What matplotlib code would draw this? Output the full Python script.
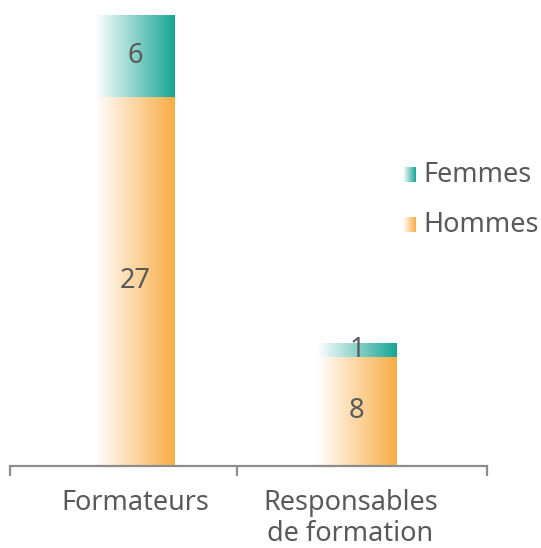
import numpy as np
import matplotlib
matplotlib.use("Agg")
import matplotlib.pyplot as plt
from matplotlib.colors import to_rgb

categories = ["Formateurs", "Responsables\nde formation"]
hommes = [27, 8]
femmes = [6, 1]
series_names = ["Hommes", "Femmes"]
colors = {"Hommes": "#F9AD45", "Femmes": "#16A594"}
text_color = "#595959"
axis_color = "#8C8C8C"

plt.rcParams['font.family'] = ['Noto Sans', 'DejaVu Sans']
FS = 19.5

W, H = 541, 548
fig = plt.figure(figsize=(W / 100, H / 100), dpi=100)
ax = fig.add_axes([10 / W, 1 - 466 / H, 477 / W, (466 - 15) / H])

x = np.arange(len(categories))
bw = 0.36

def gradient(color):
    c = np.array(to_rgb(color))
    t = np.linspace(0, 1, 256)[:, None]
    g = (1 - t) * np.ones(3) + t * c
    return g[None, :, :]

b1 = ax.bar(x, hommes, width=bw, color="none", edgecolor="none")
b2 = ax.bar(x, femmes, width=bw, bottom=hommes, color="none", edgecolor="none")

for bars, name, vals in [(b1, "Hommes", hommes), (b2, "Femmes", femmes)]:
    g = gradient(colors[name])
    for p, v in zip(bars.patches, vals):
        x0, y0, w, h = p.get_x(), p.get_y(), p.get_width(), p.get_height()
        ax.imshow(g, extent=[x0, x0 + w, y0, y0 + h], aspect="auto",
                  interpolation="bilinear", zorder=2)
        ax.text(x0 + w / 2, y0 + h / 2, str(v), ha="center", va="center",
                fontsize=FS, color=text_color, zorder=3)

ax.set_xlim(-0.563, 1.586)
ax.set_ylim(0, 33)
for s in ["top", "right", "left"]:
    ax.spines[s].set_visible(False)
ax.spines["bottom"].set_color(axis_color)
ax.spines["bottom"].set_linewidth(1.6)
ax.set_yticks([])
ax.set_xticks([-0.563, 0.459, 1.586])
ax.set_xticklabels([])
ax.tick_params(axis="x", direction="out", length=7, width=1.6, color=axis_color)

for xi, lab in zip(x, categories):
    ax.text(xi - 0.03 * xi, -1.7, lab, ha="center", va="top", fontsize=FS,
            color=text_color, linespacing=1.12, transform=ax.transData)

# legend
for name, ytop in [("Femmes", 167), ("Hommes", 217)]:
    lax = fig.add_axes([403 / W, 1 - (ytop + 15) / H, 13 / W, 15 / H])
    lax.imshow(gradient(colors[name]), extent=[0, 1, 0, 1], aspect="auto",
               interpolation="bilinear")
    lax.axis("off")
    fig.text(423 / W, 1 - (ytop + 8) / H, name, ha="left", va="center",
             fontsize=FS, color=text_color)

fig.savefig("out.png", dpi=100)
